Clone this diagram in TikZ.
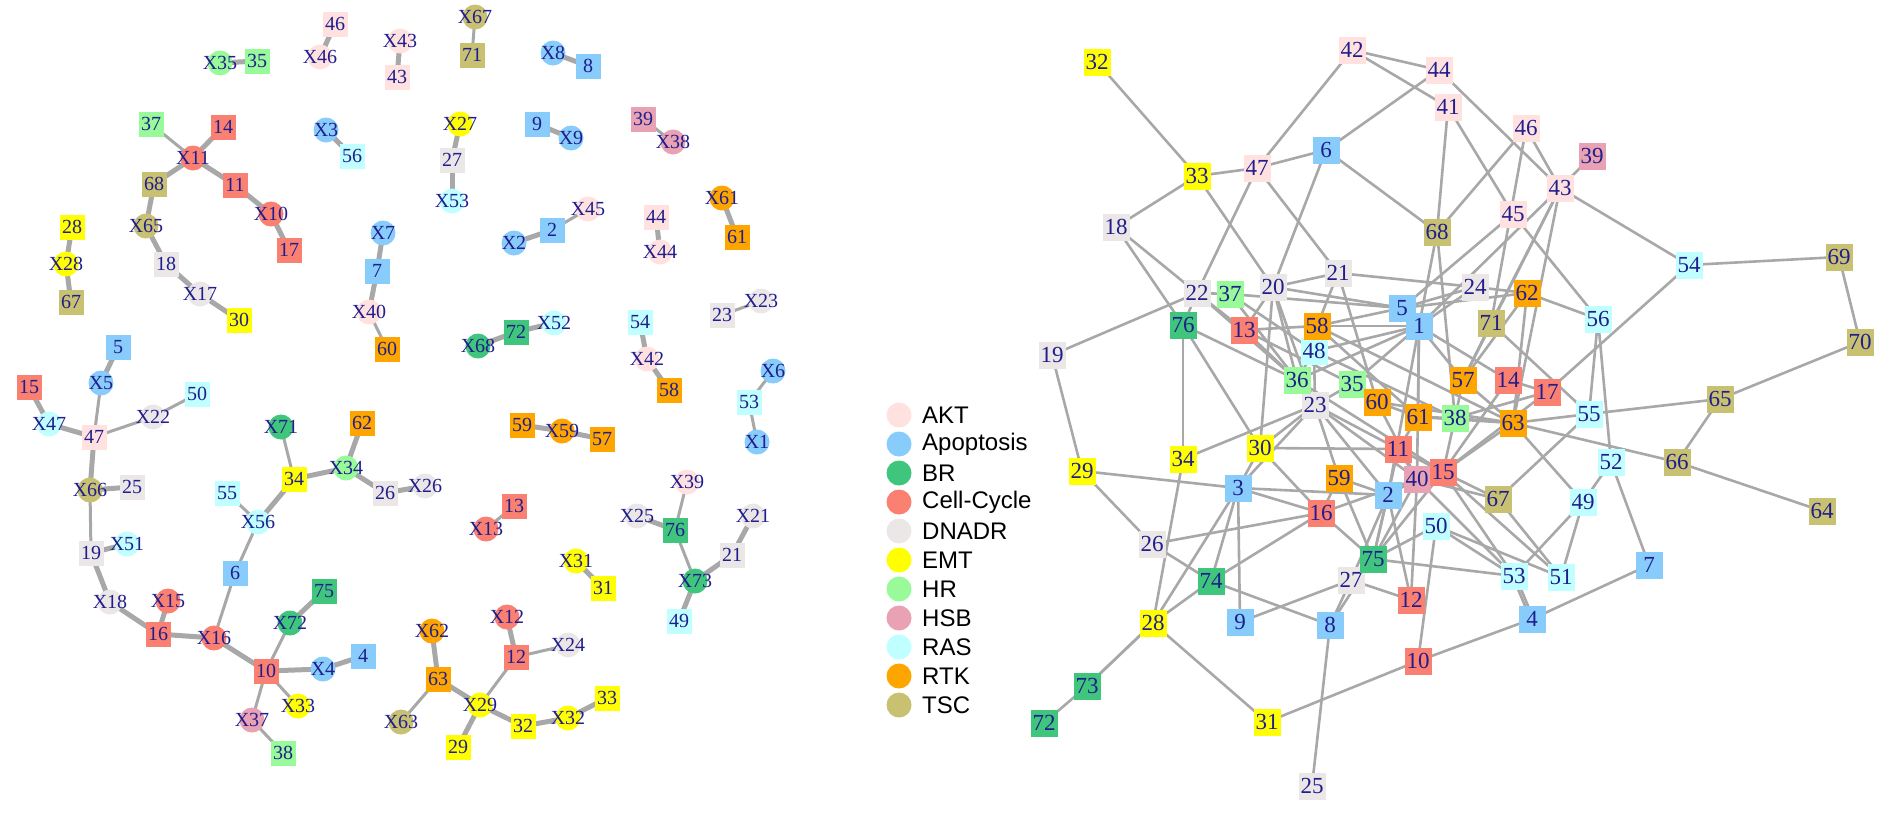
\documentclass[tikz,border=0pt]{standalone}
\usepackage{fontspec}
\setmainfont{Liberation Serif}
\newfontfamily\legfont{Liberation Sans}
\pgfdeclarelayer{bg}
\pgfsetlayers{bg,main}
\definecolor{cAKT}{RGB}{255,226,224}
\definecolor{cApo}{RGB}{135,204,250}
\definecolor{cBR}{RGB}{64,198,124}
\definecolor{cCC}{RGB}{250,128,114}
\definecolor{cDNA}{RGB}{236,231,231}
\definecolor{cEMT}{RGB}{255,255,0}
\definecolor{cHR}{RGB}{152,250,152}
\definecolor{cHSB}{RGB}{232,162,180}
\definecolor{cRAS}{RGB}{192,255,255}
\definecolor{cRTK}{RGB}{255,165,0}
\definecolor{cTSC}{RGB}{200,193,114}
\definecolor{tcol}{RGB}{32,30,140}
\definecolor{ecol}{RGB}{168,168,168}
\newcommand\lfnt{\fontsize{20}{20}\selectfont}
\newcommand\rfnt{\fontsize{23}{23}\selectfont}
\newcommand\mkLS[4]{\node[lsq,fill=#4] (a#1) at (#2,#3) {#1};}
\newcommand\mkLC[4]{\node[lci,fill=#4] (x#1) at (#2,#3) {X#1};}
\newcommand\mkRS[4]{\node[rsq,fill=#4] (r#1) at (#2,#3) {#1};}
\tikzset{
 lsq/.style={rectangle, minimum size=25pt, inner sep=0pt, font=\lfnt, text=tcol},
 lci/.style={circle, minimum size=25pt, inner sep=-7pt, font=\lfnt, text=tcol},
 rsq/.style={rectangle, minimum size=27pt, inner sep=0pt, font=\rfnt, text=tcol},
 le/.style={line width=5pt, draw=ecol},
 lt/.style={line width=3pt, draw=ecol},
 re/.style={line width=2.6pt, draw=ecol},
 legdot/.style={circle, minimum size=25pt, inner sep=0pt},
 legtxt/.style={anchor=west, font=\legfont\fontsize{24}{24}\selectfont, text=black, inner sep=0pt},
}
\begin{document}
\begin{tikzpicture}[x=1pt,y=-1pt]
\useasboundingbox (0,0) rectangle (1889,812);
% ---------------- left panel squares
\mkLS{35}{257}{61}{cHR}
\mkLS{46}{335}{24}{cAKT}
\mkLS{43}{397}{77}{cAKT}
\mkLS{37}{151}{124}{cHR}
\mkLS{14}{223}{127}{cCC}
\mkLS{68}{154}{184}{cTSC}
\mkLS{11}{235}{185}{cCC}
\mkLS{17}{289}{250}{cCC}
\mkLS{18}{166}{264}{cDNA}
\mkLS{30}{239}{320}{cEMT}
\mkLS{28}{72}{227}{cEMT}
\mkLS{67}{71}{302}{cTSC}
\mkLS{56}{352}{156}{cRAS}
\mkLS{7}{377}{271}{cApo}
\mkLS{60}{387}{349}{cRTK}
\mkLS{5}{118}{347}{cApo}
\mkLS{15}{29}{387}{cCC}
\mkLS{50}{197}{394}{cRAS}
\mkLS{71}{472}{55}{cTSC}
\mkLS{8}{588}{66}{cApo}
\mkLS{27}{452}{160}{cDNA}
\mkLS{9}{537}{124}{cApo}
\mkLS{39}{643}{119}{cHSB}
\mkLS{2}{552}{230}{cApo}
\mkLS{44}{656}{217}{cAKT}
\mkLS{61}{737}{237}{cRTK}
\mkLS{23}{722}{315}{cDNA}
\mkLS{72}{516}{332}{cBR}
\mkLS{54}{640}{322}{cRAS}
\mkLS{58}{669}{390}{cRTK}
\mkLS{53}{749}{402}{cRAS}
\mkLS{59}{522}{425}{cRTK}
\mkLS{57}{602}{439}{cRTK}
\mkLS{13}{514}{506}{cCC}
\mkLS{31}{603}{588}{cEMT}
\mkLS{76}{675}{530}{cBR}
\mkLS{21}{732}{555}{cDNA}
\mkLS{49}{679}{621}{cRAS}
\mkLS{12}{516}{657}{cCC}
\mkLS{32}{523}{726}{cEMT}
\mkLS{33}{607}{698}{cEMT}
\mkLS{29}{458}{747}{cEMT}
\mkLS{47}{94}{437}{cAKT}
\mkLS{25}{132}{487}{cDNA}
\mkLS{19}{91}{553}{cDNA}
\mkLS{16}{158}{634}{cCC}
\mkLS{6}{235}{573}{cApo}
\mkLS{55}{227}{493}{cRAS}
\mkLS{34}{294}{479}{cEMT}
\mkLS{62}{362}{423}{cRTK}
\mkLS{26}{385}{493}{cDNA}
\mkLS{75}{324}{591}{cBR}
\mkLS{10}{266}{671}{cCC}
\mkLS{4}{363}{656}{cApo}
\mkLS{38}{283}{753}{cHR}
\mkLS{63}{438}{679}{cRTK}
% ---------------- left panel circles
\mkLC{35}{220}{63}{cHR}
\mkLC{46}{320}{57}{cAKT}
\mkLC{43}{400}{41}{cAKT}
\mkLC{11}{193}{158}{cCC}
\mkLC{10}{271}{214}{cCC}
\mkLC{65}{146}{226}{cTSC}
\mkLC{17}{200}{294}{cDNA}
\mkLC{28}{66}{264}{cEMT}
\mkLC{3}{326}{130}{cApo}
\mkLC{7}{383}{233}{cApo}
\mkLC{40}{369}{312}{cAKT}
\mkLC{5}{101}{383}{cApo}
\mkLC{67}{475}{17}{cTSC}
\mkLC{8}{553}{53}{cApo}
\mkLC{27}{460}{124}{cEMT}
\mkLC{53}{452}{201}{cRAS}
\mkLC{9}{571}{138}{cApo}
\mkLC{38}{673}{142}{cHSB}
\mkLC{45}{588}{209}{cAKT}
\mkLC{2}{514}{243}{cApo}
\mkLC{44}{660}{252}{cAKT}
\mkLC{61}{722}{198}{cRTK}
\mkLC{23}{761}{301}{cDNA}
\mkLC{68}{478}{346}{cBR}
\mkLC{52}{554}{323}{cRAS}
\mkLC{42}{647}{359}{cAKT}
\mkLC{6}{773}{371}{cApo}
\mkLC{1}{757}{442}{cApo}
\mkLC{59}{562}{431}{cRTK}
\mkLC{13}{486}{529}{cCC}
\mkLC{31}{576}{561}{cEMT}
\mkLC{39}{687}{482}{cAKT}
\mkLC{25}{637}{516}{cDNA}
\mkLC{21}{753}{516}{cDNA}
\mkLC{73}{695}{581}{cBR}
\mkLC{12}{507}{617}{cCC}
\mkLC{24}{568}{645}{cDNA}
\mkLC{29}{480}{705}{cEMT}
\mkLC{32}{568}{718}{cEMT}
\mkLC{62}{432}{631}{cRTK}
\mkLC{63}{401}{722}{cTSC}
\mkLC{47}{49}{424}{cRAS}
\mkLC{22}{153}{417}{cDNA}
\mkLC{66}{90}{490}{cTSC}
\mkLC{51}{127}{544}{cRAS}
\mkLC{18}{110}{602}{cDNA}
\mkLC{15}{168}{601}{cCC}
\mkLC{16}{214}{638}{cCC}
\mkLC{56}{258}{522}{cRAS}
\mkLC{71}{281}{427}{cBR}
\mkLC{34}{346}{468}{cHR}
\mkLC{26}{425}{486}{cDNA}
\mkLC{72}{290}{623}{cBR}
\mkLC{4}{323}{669}{cApo}
\mkLC{33}{298}{706}{cEMT}
\mkLC{37}{252}{720}{cHSB}
% ---------------- right panel nodes
\mkRS{2}{1388}{495}{cApo}
\mkRS{3}{1238}{488}{cApo}
\mkRS{4}{1532}{619}{cApo}
\mkRS{5}{1402}{308}{cApo}
\mkRS{1}{1419}{326}{cApo}
\mkRS{6}{1326}{150}{cApo}
\mkRS{7}{1649}{565}{cApo}
\mkRS{8}{1330}{625}{cApo}
\mkRS{9}{1240}{622}{cApo}
\mkRS{10}{1418}{661}{cCC}
\mkRS{11}{1398}{449}{cCC}
\mkRS{12}{1411}{600}{cCC}
\mkRS{13}{1244}{330}{cCC}
\mkRS{14}{1508}{380}{cCC}
\mkRS{16}{1321}{513}{cCC}
\mkRS{17}{1547}{392}{cCC}
\mkRS{18}{1116}{227}{cDNA}
\mkRS{19}{1052}{355}{cDNA}
\mkRS{20}{1273}{287}{cDNA}
\mkRS{21}{1338}{273}{cDNA}
\mkRS{22}{1197}{293}{cDNA}
\mkRS{23}{1315}{405}{cDNA}
\mkRS{24}{1475}{287}{cDNA}
\mkRS{25}{1312}{786}{cDNA}
\mkRS{26}{1152}{544}{cDNA}
\mkRS{27}{1351}{580}{cDNA}
\mkRS{28}{1153}{623}{cEMT}
\mkRS{29}{1082}{471}{cEMT}
\mkRS{30}{1260}{448}{cEMT}
\mkRS{31}{1267}{722}{cEMT}
\mkRS{32}{1097}{62}{cEMT}
\mkRS{33}{1197}{176}{cEMT}
\mkRS{34}{1183}{459}{cEMT}
\mkRS{35}{1352}{384}{cHR}
\mkRS{36}{1297}{380}{cHR}
\mkRS{37}{1230}{294}{cHR}
\mkRS{38}{1455}{418}{cHR}
\mkRS{39}{1592}{156}{cHSB}
\mkRS{40}{1417}{479}{cHSB}
\mkRS{15}{1443}{472}{cCC}
\mkRS{41}{1448}{107}{cAKT}
\mkRS{42}{1352}{50}{cAKT}
\mkRS{43}{1560}{188}{cAKT}
\mkRS{44}{1439}{70}{cAKT}
\mkRS{45}{1513}{214}{cAKT}
\mkRS{46}{1526}{128}{cAKT}
\mkRS{47}{1257}{168}{cAKT}
\mkRS{48}{1314}{351}{cRAS}
\mkRS{49}{1583}{502}{cRAS}
\mkRS{50}{1436}{526}{cRAS}
\mkRS{51}{1561}{577}{cRAS}
\mkRS{52}{1611}{462}{cRAS}
\mkRS{53}{1514}{576}{cRAS}
\mkRS{54}{1689}{265}{cRAS}
\mkRS{55}{1589}{414}{cRAS}
\mkRS{56}{1598}{319}{cRAS}
\mkRS{57}{1463}{380}{cRTK}
\mkRS{58}{1317}{326}{cRTK}
\mkRS{59}{1339}{478}{cRTK}
\mkRS{60}{1377}{402}{cRTK}
\mkRS{61}{1418}{417}{cRTK}
\mkRS{62}{1527}{293}{cRTK}
\mkRS{63}{1513}{423}{cRTK}
\mkRS{64}{1822}{511}{cTSC}
\mkRS{65}{1720}{399}{cTSC}
\mkRS{66}{1677}{462}{cTSC}
\mkRS{67}{1498}{499}{cTSC}
\mkRS{68}{1437}{232}{cTSC}
\mkRS{69}{1839}{257}{cTSC}
\mkRS{70}{1860}{342}{cTSC}
\mkRS{71}{1491}{323}{cTSC}
\mkRS{72}{1044}{723}{cBR}
\mkRS{73}{1087}{686}{cBR}
\mkRS{74}{1211}{581}{cBR}
\mkRS{75}{1373}{559}{cBR}
\mkRS{76}{1183}{325}{cBR}
% ---------------- legend
\foreach \lab/\col [count=\i from 0] in {AKT/cAKT,Apoptosis/cApo,BR/cBR,Cell{-}Cycle/cCC,DNADR/cDNA,EMT/cEMT,HR/cHR,HSB/cHSB,RAS/cRAS,RTK/cRTK,TSC/cTSC}{
  \node[legdot,fill=\col] (ld\i) at (899,{415+29*\i}) {};
  \node[legtxt] (lt\i) at (922,{415+29*\i}) {\lab};
}
% ---------------- edges
\begin{pgfonlayer}{bg}
\foreach \a/\b in {x35/a35,a46/x46,x43/a43,a14/x11,x11/a68,x11/a11,a11/x10,x10/a17,a68/x65,x65/a18,a18/x17,x17/a30,a28/x28,x28/a67,x3/a56,x7/a7,a7/x40,x8/a8,x27/a27,a27/x53,a9/x9,x2/a2,a44/x44,x61/a61,x68/a72,a72/x52,a54/x42,x42/a58,a59/x59,x59/a57,x31/a31,x25/a76,x73/a49,a21/x21,x73/a21,x12/a12,x29/a32,a32/x32,x32/a33,x29/a29,x29/a63,x62/a63,x47/a47,a47/x66,x66/a25,a19/x51,a19/x18,x18/a16,x15/a16,a16/x16,x16/a10,x72/a75,a10/x4,x4/a4,x56/a34,a34/x34,x34/a26,a26/x26,x34/a62,a15/x47,a5/x5}
  \draw[le] (\a.center) -- (\b.center);
\foreach \a/\b in {a37/x11,x6/a53,a53/x1,x39/a76,a76/x73,a12/x24,a12/x29,x66/a19,a47/x22,x22/a50,x16/a6,a6/x56,x71/a34,a63/x63,x40/a60,a10/x72,a10/x37,x37/a38,a10/x33,a23/x23,a39/x38,x67/a71,x13/a13,x56/a55,x5/a47,a2/x45}
  \draw[lt] (\a.center) -- (\b.center);
\foreach \a/\b in {32/33,33/47,33/18,33/20,47/6,47/42,47/22,47/21,42/44,42/41,6/44,6/68,6/20,41/68,41/45,44/43,46/68,46/43,46/71,43/39,43/54,43/1,43/71,43/57,43/63,45/5,45/56,24/62,5/24,1/24,62/56,62/57,62/63,56/55,56/52,54/17,54/69,69/70,70/65,65/55,65/66,66/64,63/66,63/49,52/49,52/7,55/67,49/53,49/51,67/51,50/51,50/53,4/7,4/10,15/53,75/53,10/50,10/31,31/28,73/72,28/34,28/3,28/74,74/3,74/8,74/26,74/16,26/29,26/16,29/3,3/2,3/16,3/9,3/30,3/23,9/27,8/27,8/75,8/25,27/12,16/75,75/2,75/40,75/11,75/50,12/2,12/40,30/11,30/23,34/23,19/29,19/22,18/22,18/76,76/36,76/34,76/30,20/21,20/13,20/30,21/24,21/58,21/60,22/37,22/76,37/5,20/5,13/58,58/1,58/5,48/36,48/23,48/1,48/38,36/1,35/1,30/16,22/13,22/36,37/36,37/48,20/36,20/23,13/36,13/35,36/23,35/60,35/23,23/59,23/2,23/11,60/61,60/63,61/63,61/38,61/11,11/40,11/15,1/57,1/61,1/14,1/40,5/62,71/57,71/55,57/63,57/38,14/17,17/38,17/15,63/38,63/15,63/55,38/15,15/40,40/2,2/59,2/11,40/67,15/67,68/1,68/38,59/16,16/40,40/53,15/51,27/2,75/15,58/63,60/40,36/15,23/40,59/75,14/15,1/2,58/61}
  \draw[re] (r\a.center) -- (r\b.center);
\draw[re] ([xshift=-1.5pt,yshift=-1.5pt]r28.center) -- ([xshift=-1.5pt,yshift=-1.5pt]r73.center);
\draw[re] ([xshift=1.5pt,yshift=1.5pt]r28.center) -- ([xshift=1.5pt,yshift=1.5pt]r73.center);
\draw[re] ([xshift=-1.5pt]r53.center) -- ([xshift=-1.5pt]r4.center);
\draw[re] ([xshift=1.5pt]r53.center) -- ([xshift=1.5pt]r4.center);
\end{pgfonlayer}
\end{tikzpicture}
\end{document}
